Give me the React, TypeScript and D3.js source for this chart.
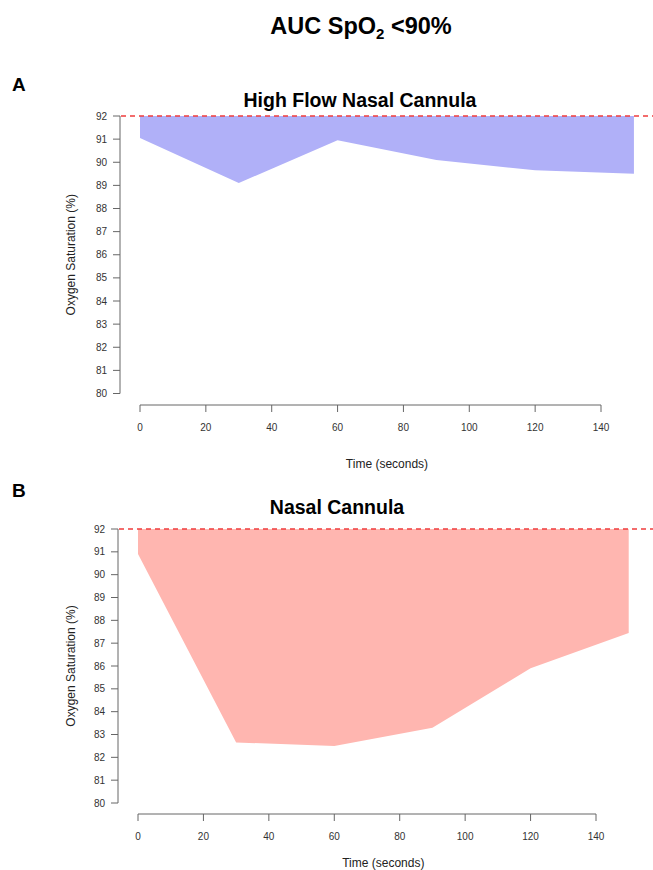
import React from 'react';
import * as d3 from 'd3';

// time points (seconds)
const timePoints = [0, 30, 60, 90, 120, 150];
// mean SpO2 per time point
const hfncValues = [91.05, 89.1, 90.95, 90.1, 89.65, 89.5];
const ncValues = [90.9, 82.65, 82.5, 83.3, 85.9, 87.45];
const xTicks = [0, 20, 40, 60, 80, 100, 120, 140];
const yTicks = [80, 81, 82, 83, 84, 85, 86, 87, 88, 89, 90, 91, 92];
const threshold = 92;

const FONT = 'Liberation Sans, Arial, sans-serif';

type PanelProps = {
  letter: string;
  letterY: number;
  title: string;
  titleX: number;
  titleY: number;
  values: number[];
  fill: string;
  top: number; // y of the 92 tick
  bottom: number; // y of the 80 tick
  x0: number; // pixel of t=0
  x140: number; // pixel of t=140
  axisX: number; // y axis line x
  xAxisY: number;
  xLabelY: number;
};

const Panel = (p: PanelProps) => {
  const x = d3.scaleLinear().domain([0, 140]).range([p.x0, p.x140]);
  const y = d3.scaleLinear().domain([80, 92]).range([p.bottom, p.top]);
  const pts = timePoints.map((t, i) => ({ t, v: p.values[i] }));
  const area = d3
    .area<{ t: number; v: number }>()
    .x(d => x(d.t))
    .y0(() => y(threshold))
    .y1(d => y(d.v));
  const axisColor = '#666';
  const axisX = p.axisX;
  return (
    <g>
      <text x={12} y={p.letterY} fontFamily={FONT} fontWeight="bold" fontSize={19}>
        {p.letter}
      </text>
      <text x={p.titleX} y={p.titleY} textAnchor="middle" fontFamily={FONT} fontWeight="bold" fontSize={19.5}>
        {p.title}
      </text>
      <path d={area(pts) ?? ''} fill={p.fill} />
      <line
        x1={axisX + 1}
        x2={653}
        y1={y(threshold)}
        y2={y(threshold)}
        stroke="#f03c3c"
        strokeWidth={1.5}
        strokeDasharray="5,4"
      />
      {/* y axis */}
      <line x1={axisX} x2={axisX} y1={y(92)} y2={y(80)} stroke={axisColor} strokeWidth={1} />
      {yTicks.map(t => (
        <g key={t}>
          <line x1={axisX - 7} x2={axisX} y1={y(t)} y2={y(t)} stroke={axisColor} />
          <text
            x={axisX - 13}
            y={y(t)}
            dy="0.35em"
            textAnchor="end"
            fontFamily={FONT}
            fontSize={10}
            fill="#333"
          >
            {t}
          </text>
        </g>
      ))}
      <text
        transform={`translate(75,${(y(92) + y(80)) / 2}) rotate(-90)`}
        textAnchor="middle"
        fontFamily={FONT}
        fontSize={12}
        fill="#222"
      >
        Oxygen Saturation (%)
      </text>
      {/* x axis */}
      <line x1={x(0)} x2={x(140)} y1={p.xAxisY} y2={p.xAxisY} stroke={axisColor} />
      {xTicks.map(t => (
        <g key={t}>
          <line x1={x(t)} x2={x(t)} y1={p.xAxisY} y2={p.xAxisY + 7} stroke={axisColor} />
          <text
            x={x(t)}
            y={p.xAxisY + 26}
            textAnchor="middle"
            fontFamily={FONT}
            fontSize={10}
            fill="#333"
          >
            {t}
          </text>
        </g>
      ))}
      <text
        x={x(75)}
        y={p.xLabelY}
        textAnchor="middle"
        fontFamily={FONT}
        fontSize={12}
        fill="#222"
      >
        Time (seconds)
      </text>
    </g>
  );
};

export default function App() {
  return (
    <svg
      width={653}
      height={870}
      style={{ position: 'absolute', left: 0, top: 0, background: '#fff' }}
    >
      <text x={361} y={34} textAnchor="middle" fontFamily={FONT} fontWeight="bold" fontSize={23.5}>
        AUC SpO
        <tspan fontSize={15} dy={5}>2</tspan>
        <tspan dy={-5}> &lt;90%</tspan>
      </text>
      <Panel
        letter="A"
        letterY={91}
        title="High Flow Nasal Cannula"
        titleX={360}
        titleY={107}
        values={hfncValues}
        fill="#b0b0f8"
        top={116}
        bottom={393.5}
        x0={140}
        x140={601}
        axisX={120}
        xAxisY={405}
        xLabelY={468}
      />
      <Panel
        letter="B"
        letterY={497}
        title="Nasal Cannula"
        titleX={337}
        titleY={514}
        values={ncValues}
        fill="#ffb6b0"
        top={529}
        bottom={803}
        x0={138}
        x140={596}
        axisX={118}
        xAxisY={814}
        xLabelY={867}
      />
    </svg>
  );
}
